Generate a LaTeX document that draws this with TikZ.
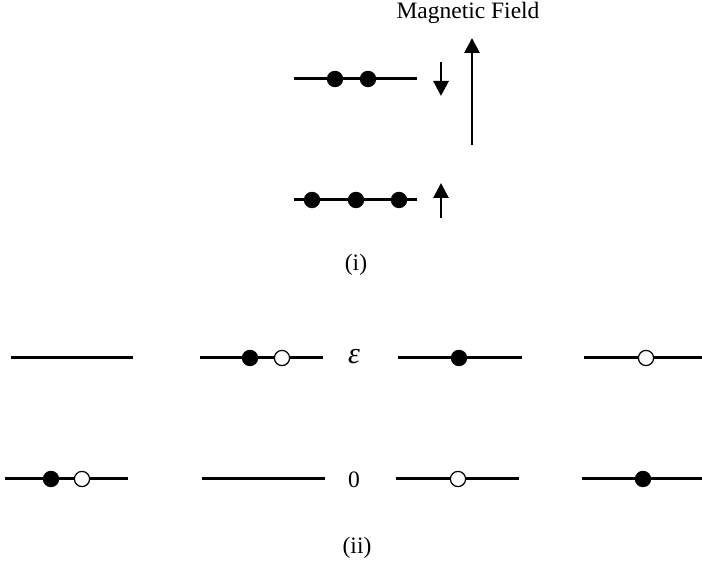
\documentclass[tikz,border=0pt]{standalone}
\usepackage{fontspec}
\setmainfont{Liberation Serif}
\usetikzlibrary{arrows.meta}

\tikzset{
  level/.style={line width=1.5pt},
  electron/.style={circle,fill=black,inner sep=0pt,minimum size=8.2pt},
  hole/.style={circle,draw=black,fill=white,line width=0.6pt,inner sep=0pt,minimum size=7.6pt},
  spin/.style={line width=1.4pt,-{Triangle[length=7.5pt,width=7.5pt]}},
  txt/.style={font=\fontsize{11.75}{14}\selectfont,inner sep=0pt}
}

\begin{document}
\begin{tikzpicture}[x=0.5pt,y=-0.5pt,line cap=butt]
  \useasboundingbox (0,0) rectangle (702,565);
  \def\yU{79}
  \def\yL{200}
  \def\yE{358}
  \def\yZ{479}

  % (i) niveles con campo magnetico
  \draw[level] (294,\yU) -- (417,\yU);
  \draw[level] (294,\yL) -- (417,\yL);
  \node[electron] (u1) at (335,\yU) {};
  \node[electron] (u2) at (368,\yU) {};
  \node[electron] (l1) at (312,\yL) {};
  \node[electron] (l2) at (356,\yL) {};
  \node[electron] (l3) at (399,\yL) {};

  \coordinate (sdt) at (441,62);
  \coordinate (sdh) at (441,96);
  \coordinate (sut) at (441,218);
  \coordinate (suh) at (441,183);
  \draw[spin] (sdt) -- (sdh);
  \draw[spin] (sut) -- (suh);

  \coordinate (Bt) at (472,145);
  \coordinate (Bh) at (472,38);
  \draw[spin] (Bt) -- (Bh);
  \node[txt,anchor=base] (field) at (468,19) {Magnetic Field};
  \node[txt] (capi) at (356,265) {(i)};

  % (ii) configuraciones de dos niveles
  \draw[level] (11,\yE) -- (133,\yE);
  \draw[level] (5,\yZ) -- (128,\yZ);
  \node[electron] (a1) at (51,\yZ) {};
  \node[hole] (a2) at (82,\yZ) {};

  \draw[level] (200,\yE) -- (323,\yE);
  \draw[level] (202,\yZ) -- (325,\yZ);
  \node[electron] (b1) at (250,\yE) {};
  \node[hole] (b2) at (282,\yE) {};

  \draw[level] (398,\yE) -- (522,\yE);
  \draw[level] (396,\yZ) -- (519,\yZ);
  \node[electron] (c1) at (459,\yE) {};
  \node[hole] (c2) at (458,\yZ) {};

  \draw[level] (584,\yE) -- (702,\yE);
  \draw[level] (582,\yZ) -- (702,\yZ);
  \node[hole] (d1) at (646,\yE) {};
  \node[electron] (d2) at (643,\yZ) {};

  \node[txt,font=\fontsize{15}{17}\selectfont] (eps) at (354,357) {\textit{ε}};
  \node[txt] (zero) at (354,480) {0};
  \node[txt] (capii) at (357,548) {(ii)};
\end{tikzpicture}
\end{document}
